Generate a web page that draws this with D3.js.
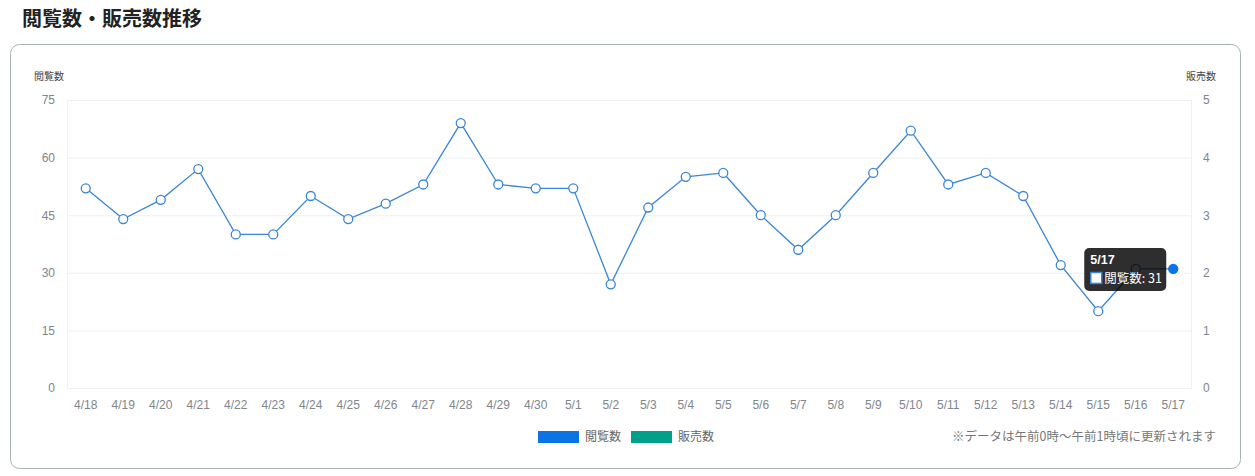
<!DOCTYPE html>
<html><head><meta charset="utf-8">
<script src="https://cdn.jsdelivr.net/npm/d3@7"></script>
<style>
html,body{margin:0;padding:0;background:#fff;}
svg{display:block;font-family:"Liberation Sans","Noto Sans CJK JP",sans-serif;}
.jp{font-family:"Noto Sans CJK JP","Liberation Sans",sans-serif;}
</style></head>
<body>
<svg id="c" width="1255" height="476"></svg>
<script>
const categories = ["4/18","4/19","4/20","4/21","4/22","4/23","4/24","4/25","4/26","4/27","4/28","4/29","4/30","5/1","5/2","5/3","5/4","5/5","5/6","5/7","5/8","5/9","5/10","5/11","5/12","5/13","5/14","5/15","5/16","5/17"];
const viewValues = [52,44,49,57,40,40,50,44,48,53,69,53,52,52,27,47,55,56,45,36,45,56,67,53,56,50,32,20,31,31];
const leftTicks = [0,15,30,45,60,75];
const rightTicks = [0,1,2,3,4,5];
const seriesNames = ["閲覧数","販売数"];
const seriesColors = ["#0b74e5","#00a08a"];
const activeIndex = 29;

const svg = d3.select("#c");
// title
svg.append("text").attr("class","jp").attr("x",22).attr("y",26)
  .attr("font-size",20).attr("font-weight","bold").attr("fill","#222").text("閲覧数・販売数推移");
// card
svg.append("rect").attr("x",10.5).attr("y",44.5).attr("width",1230).attr("height",424)
  .attr("rx",9).attr("fill","#fff").attr("stroke","#a9b3b3").attr("stroke-width",1);

const L=67, R=1192, T=100, B=388;
const x = d3.scaleBand().domain(categories).range([L,R]);
const y = d3.scaleLinear().domain([0,75]).range([B,T]);
const y2 = d3.scaleLinear().domain([0,5]).range([B,T]);

// grid
svg.append("g").selectAll("line").data(leftTicks).join("line")
  .attr("x1",L).attr("x2",R).attr("y1",d=>y(d)+0.5).attr("y2",d=>y(d)+0.5)
  .attr("stroke","#eef0f2");
svg.append("line").attr("x1",L+0.5).attr("x2",L+0.5).attr("y1",T).attr("y2",B).attr("stroke","#eef0f2");
svg.append("line").attr("x1",R-0.5).attr("x2",R-0.5).attr("y1",T).attr("y2",B).attr("stroke","#eef0f2");

// left axis
const gl = svg.append("g").attr("transform",`translate(${L-12},0)`)
  .call(d3.axisLeft(y).tickValues(leftTicks).tickSize(0).tickPadding(0));
gl.select(".domain").remove();
gl.selectAll("text").attr("fill","#80868b").attr("font-size",12).attr("font-family","Liberation Sans, sans-serif");
// right axis
const gr = svg.append("g").attr("transform",`translate(${R+11},0)`)
  .call(d3.axisRight(y2).tickValues(rightTicks).tickFormat(d3.format("d")).tickSize(0).tickPadding(0));
gr.select(".domain").remove();
gr.selectAll("text").attr("fill","#80868b").attr("font-size",12).attr("font-family","Liberation Sans, sans-serif");
// x axis
const gx = svg.append("g").attr("transform",`translate(0,${B+12})`)
  .call(d3.axisBottom(x).tickSize(0).tickPadding(0));
gx.select(".domain").remove();
gx.selectAll("text").attr("fill","#80868b").attr("font-size",12).attr("dy","0.71em").attr("font-family","Liberation Sans, sans-serif");

// axis titles
svg.append("text").attr("class","jp").attr("x",49).attr("y",80).attr("text-anchor","middle")
  .attr("font-size",10).attr("fill","#444").text("閲覧数");
svg.append("text").attr("class","jp").attr("x",1201).attr("y",80).attr("text-anchor","middle")
  .attr("font-size",10).attr("fill","#444").text("販売数");

// line
const cx = d => x(d)+x.bandwidth()/2;
const line = d3.line().x((d,i)=>cx(categories[i])).y(d=>y(d));
svg.append("path").datum(viewValues).attr("d",line).attr("fill","none")
  .attr("stroke","#3a86d6").attr("stroke-width",1.3);
svg.append("g").selectAll("circle").data(viewValues).join("circle")
  .attr("cx",(d,i)=>cx(categories[i])).attr("cy",d=>y(d))
  .attr("r",4.5)
  .attr("fill",(d,i)=>i===activeIndex?"#0b74e5":"#fff")
  .attr("stroke",(d,i)=>i===activeIndex?"#0b74e5":"#3a86d6").attr("stroke-width",1.3);

// tooltip
const px = cx(categories[activeIndex]), py = y(viewValues[activeIndex]);
const tw = 82, th = 43, tx = px - 89, ty = py - 21;
const tg = svg.append("g");
tg.append("rect").attr("x",tx).attr("y",ty).attr("width",tw).attr("height",th).attr("rx",5)
  .attr("fill","rgba(0,0,0,0.82)");
tg.append("text").attr("x",tx+6).attr("y",ty+16).attr("fill","#fff").attr("font-size",12.5)
  .attr("font-weight","bold").text(categories[activeIndex]);
tg.append("rect").attr("x",tx+6.5).attr("y",ty+24.5).attr("width",11).attr("height",11)
  .attr("fill","#fff").attr("stroke","#3a86d6").attr("stroke-width",1.5);
tg.append("text").attr("class","jp").attr("x",tx+20).attr("y",ty+35).attr("fill","#fff").attr("font-size",12.5)
  .text(seriesNames[0]+": "+viewValues[activeIndex]);

// legend
const lx = [538,631];
seriesNames.forEach((n,i)=>{
  svg.append("rect").attr("x",lx[i]).attr("y",431).attr("width",41).attr("height",12).attr("fill",seriesColors[i]);
  svg.append("text").attr("class","jp").attr("x",lx[i]+47).attr("y",441).attr("font-size",12)
    .attr("fill","#666").text(n);
});
svg.append("text").attr("class","jp").attr("x",1216).attr("y",441).attr("text-anchor","end")
  .attr("font-size",12.5).attr("fill","#777").text("※データは午前0時～午前1時頃に更新されます");
</script>
</body></html>
